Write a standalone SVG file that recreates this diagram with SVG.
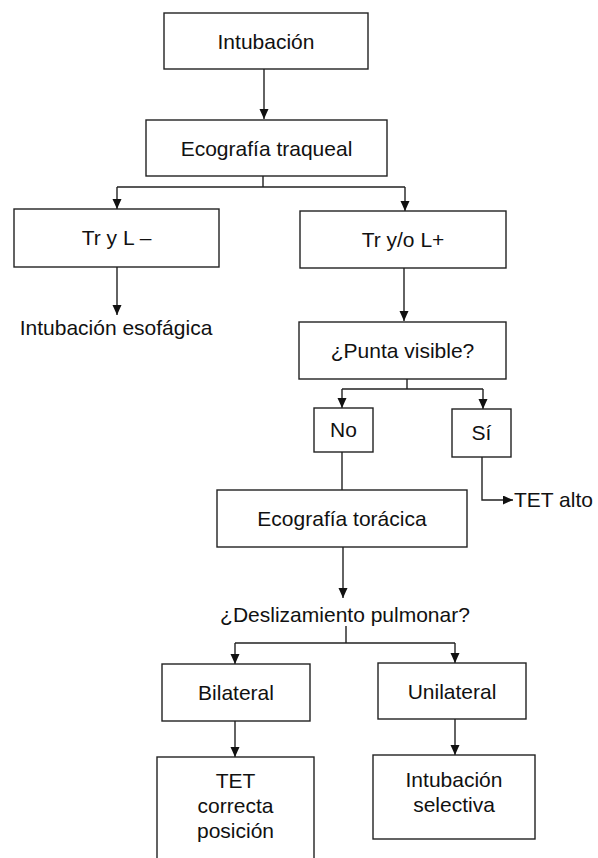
<svg xmlns="http://www.w3.org/2000/svg" width="598" height="858" viewBox="0 0 598 858">
<defs>
<style>
.box{fill:#fff;stroke:#222;stroke-width:1.4}
.t{font-family:"Liberation Sans",Arial,Helvetica,sans-serif;font-size:21px;fill:#111;text-anchor:middle}
.ts{font-family:"Liberation Sans",Arial,Helvetica,sans-serif;font-size:21px;fill:#111}
.ln{fill:none;stroke:#222;stroke-width:1.4}
.ar{fill:none;stroke:#222;stroke-width:1.4;marker-end:url(#ah)}
</style>
<marker id="ah" markerUnits="userSpaceOnUse" markerWidth="10" markerHeight="10" refX="10" refY="4.5" orient="auto">
<path d="M0,0 L10,4.5 L0,9 z" fill="#111"/>
</marker>
</defs>
<rect width="598" height="858" fill="#fff"/>
<g id="connectors">
<path class="ar" d="M264,69 V119"/>
<path class="ln" d="M263,176 V187 H117 M263,187 H405"/>
<path class="ar" d="M117,187 V209"/>
<path class="ar" d="M405,187 V211"/>
<path class="ar" d="M117,267 V315"/>
<path class="ar" d="M404,268 V321"/>
<path class="ln" d="M407,379 V389 H342 M407,389 H483"/>
<path class="ar" d="M342,389 V408"/>
<path class="ar" d="M483,389 V409"/>
<path class="ln" d="M342,452 V490"/>
<path class="ar" d="M482,457 V500 H513"/>
<path class="ar" d="M343,547 V598"/>
<path class="ln" d="M346,626 V643 H235 M346,643 H455"/>
<path class="ar" d="M235,643 V664"/>
<path class="ar" d="M455,643 V663"/>
<path class="ar" d="M235,721 V757"/>
<path class="ar" d="M455,719 V755"/>
</g>
<g id="n-intubacion"><rect class="box" x="164" y="13" width="204" height="56"/><text class="t" x="266" y="49">Intubación</text></g>
<g id="n-eco-traqueal"><rect class="box" x="146" y="120" width="241" height="56"/><text class="t" x="266.5" y="156">Ecografía traqueal</text></g>
<g id="n-tr-l-neg"><rect class="box" x="14" y="209" width="205" height="58"/><text class="t" x="116.5" y="245">Tr y L –</text></g>
<g id="n-tr-l-pos"><rect class="box" x="300" y="211" width="206" height="57"/><text class="t" x="403" y="247">Tr y/o L+</text></g>
<g id="n-esofagica"><text class="t" x="116" y="335">Intubación esofágica</text></g>
<g id="n-punta"><rect class="box" x="299" y="322" width="207" height="57"/><text class="t" x="402.5" y="358">¿Punta visible?</text></g>
<g id="n-no"><rect class="box" x="314" y="408" width="59" height="44"/><text class="t" x="343.5" y="437">No</text></g>
<g id="n-si"><rect class="box" x="452" y="409" width="59" height="48"/><text class="t" x="481.5" y="440">Sí</text></g>
<g id="n-tet-alto"><text class="ts" x="514" y="507">TET alto</text></g>
<g id="n-eco-toracica"><rect class="box" x="217" y="490" width="250" height="57"/><text class="t" x="342" y="526">Ecografía torácica</text></g>
<g id="n-deslizamiento"><text class="t" x="345" y="622">¿Deslizamiento pulmonar?</text></g>
<g id="n-bilateral"><rect class="box" x="162" y="664" width="148" height="57"/><text class="t" x="236" y="700">Bilateral</text></g>
<g id="n-unilateral"><rect class="box" x="378" y="663" width="148" height="56"/><text class="t" x="452" y="699">Unilateral</text></g>
<g id="n-tet-correcta"><rect class="box" x="157" y="757" width="157" height="110"/><text class="t" x="235.5" y="788">TET</text><text class="t" x="235.5" y="813">correcta</text><text class="t" x="235.5" y="838">posición</text></g>
<g id="n-selectiva"><rect class="box" x="373" y="755" width="162" height="84"/><text class="t" x="454" y="787">Intubación</text><text class="t" x="454" y="812">selectiva</text></g>
</svg>
